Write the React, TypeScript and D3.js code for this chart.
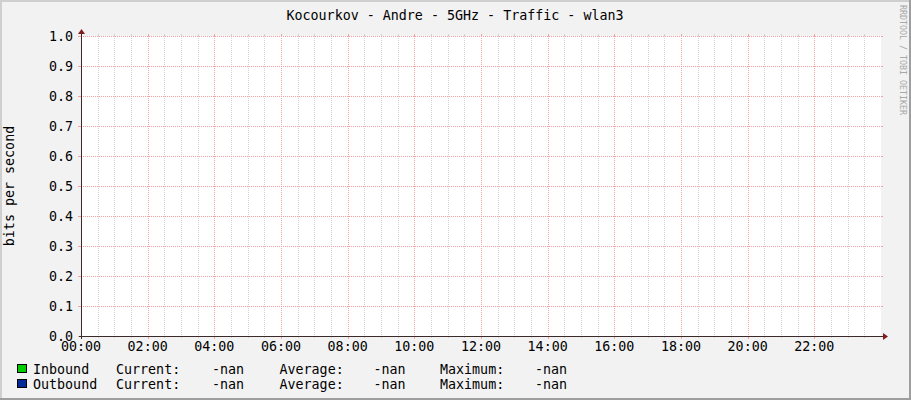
import * as React from "react";
import * as d3 from "d3";

// chart data (all values unknown -> nan)
const title = "Kocourkov - Andre - 5GHz - Traffic - wlan3";
const yLabel = "bits per second";
const watermark = "RRDTOOL / TOBI OETIKER";
const yTicks = [0, 0.1, 0.2, 0.3, 0.4, 0.5, 0.6, 0.7, 0.8, 0.9, 1.0];
const xLabels = ["00:00", "02:00", "04:00", "06:00", "08:00", "10:00", "12:00", "14:00", "16:00", "18:00", "20:00", "22:00"];
const seriesNames = ["Inbound", "Outbound"];
const seriesColors = ["#00CC00", "#002A97"];
const currentValues = ["-nan", "-nan"];
const averageValues = ["-nan", "-nan"];
const maximumValues = ["-nan", "-nan"];

const W = 911;
const H = 400;
const font = "'DejaVu Sans Mono', monospace";

export default function App() {
    let day0 = new Date(2020, 0, 1, 0, 0);
    let day1 = new Date(2020, 0, 2, 0, 0);
    let x = d3.scaleTime().domain([day0, day1]).range([81, 881]);
    let y = d3.scaleLinear().domain([0, 1]).range([336, 36]);

    let minorTimes = d3.timeMinute.every(30)!.range(day0, day1).slice(1);
    let majorTimes = d3.timeHour.every(2)!.range(day0, day1);

    let top = y(1), bottom = y(0);
    let left = x(day0), right = x(day1);

    let gridCol = "#D2D2D2";
    let mgridCol = "#F2A2A2";
    let arrowCol = "#801F1F";
    let axisCol = "#3A2A2A";

    let legendRows = [373.5, 388.5];

    return (
        <svg width={W} height={H} style={{ position: "absolute", left: 0, top: 0 }} fontFamily={font}>
            {/* background and shading */}
            <rect x={0} y={0} width={W} height={H} fill="#F2F2F2" />
            <rect x={0} y={0} width={W} height={2} fill="#CFCFCF" />
            <rect x={0} y={0} width={2} height={H} fill="#CFCFCF" />
            <rect x={0} y={H - 2} width={W} height={2} fill="#9E9E9E" />
            <rect x={W - 2} y={0} width={2} height={H} fill="#9E9E9E" />

            {/* canvas */}
            <rect x={left} y={top} width={right - left} height={bottom - top} fill="#FFFFFF" />

            <g shapeRendering="crispEdges">
                {minorTimes.filter(t => t.getMinutes() !== 0 || t.getHours() % 2 !== 0).map((t, i) => {
                    let px = Math.round(x(t)) + 0.5;
                    return (
                        <g key={"mi" + i}>
                            <line x1={px} x2={px} y1={top - 2} y2={top} stroke={gridCol} />
                            <line x1={px} x2={px} y1={bottom} y2={bottom + 2} stroke={gridCol} />
                            <line x1={px} x2={px} y1={top} y2={bottom} stroke={gridCol} strokeDasharray="1,1" />
                        </g>
                    );
                })}
                {majorTimes.slice(1).map((t, i) => {
                    let px = Math.round(x(t)) + 0.5;
                    return (
                        <g key={"ma" + i}>
                            <line x1={px} x2={px} y1={top - 2} y2={top} stroke={mgridCol} />
                            <line x1={px} x2={px} y1={bottom} y2={bottom + 3} stroke={mgridCol} />
                            <line x1={px} x2={px} y1={top} y2={bottom} stroke={mgridCol} strokeDasharray="1,1" />
                        </g>
                    );
                })}
                {yTicks.map((v, i) => {
                    let py = Math.round(y(v)) + 0.5;
                    return (
                        <g key={"y" + i}>
                            <line x1={left - 3} x2={left} y1={py} y2={py} stroke={mgridCol} />
                            <line x1={right} x2={right + 2} y1={py} y2={py} stroke={mgridCol} />
                            <line x1={left} x2={right} y1={py} y2={py} stroke={mgridCol} strokeDasharray="1,1" />
                        </g>
                    );
                })}

                {/* axes */}
                <line x1={left - 2} x2={right + 3} y1={bottom + 0.5} y2={bottom + 0.5} stroke={axisCol} />
                <line x1={left + 0.5} x2={left + 0.5} y1={bottom + 3} y2={top - 3} stroke={axisCol} />
            </g>
            <polygon points={`${right + 2},${bottom - 3} ${right + 7},${bottom + 0.5} ${right + 2},${bottom + 4}`} fill={arrowCol} />
            <polygon points={`${left - 3},${top - 2} ${left + 0.5},${top - 7} ${left + 4},${top - 2}`} fill={arrowCol} />

            {/* y labels */}
            {yTicks.map((v, i) => (
                <text key={"yl" + i} x={73} y={y(v) + 5} textAnchor="end" fontSize={13.33} fill="#000">
                    {d3.format(".1f")(v)}
                </text>
            ))}

            {/* x labels */}
            {majorTimes.map((t, i) => (
                <text key={"xl" + i} x={x(t)} y={351} textAnchor="middle" fontSize={13.33} fill="#000">
                    {xLabels[i]}
                </text>
            ))}

            {/* title */}
            <text x={455} y={19.5} textAnchor="middle" fontSize={13.33} fill="#000">{title}</text>

            {/* y axis label */}
            <text transform={`translate(13.5,${(top + bottom) / 2}) rotate(-90)`} textAnchor="middle" fontSize={13.33} fill="#000">
                {yLabel}
            </text>

            {/* watermark */}
            <text transform="translate(899.5,5) rotate(90)" fontSize={8.3} fill="#A8A8A8">{watermark}</text>

            {/* legend */}
            {seriesNames.map((name, i) => {
                let by = legendRows[i];
                return (
                    <g key={"lg" + i} fontSize={13.33} fill="#000">
                        <rect x={17.5} y={by - 9} width={9} height={8} fill={seriesColors[i]} stroke="#000" shapeRendering="crispEdges" />
                        <text x={33} y={by}>{name}</text>
                        <text x={116} y={by}>Current:</text>
                        <text x={212} y={by}>{currentValues[i]}</text>
                        <text x={279.5} y={by}>Average:</text>
                        <text x={373.5} y={by}>{averageValues[i]}</text>
                        <text x={440} y={by}>Maximum:</text>
                        <text x={535} y={by}>{maximumValues[i]}</text>
                    </g>
                );
            })}
        </svg>
    );
}
